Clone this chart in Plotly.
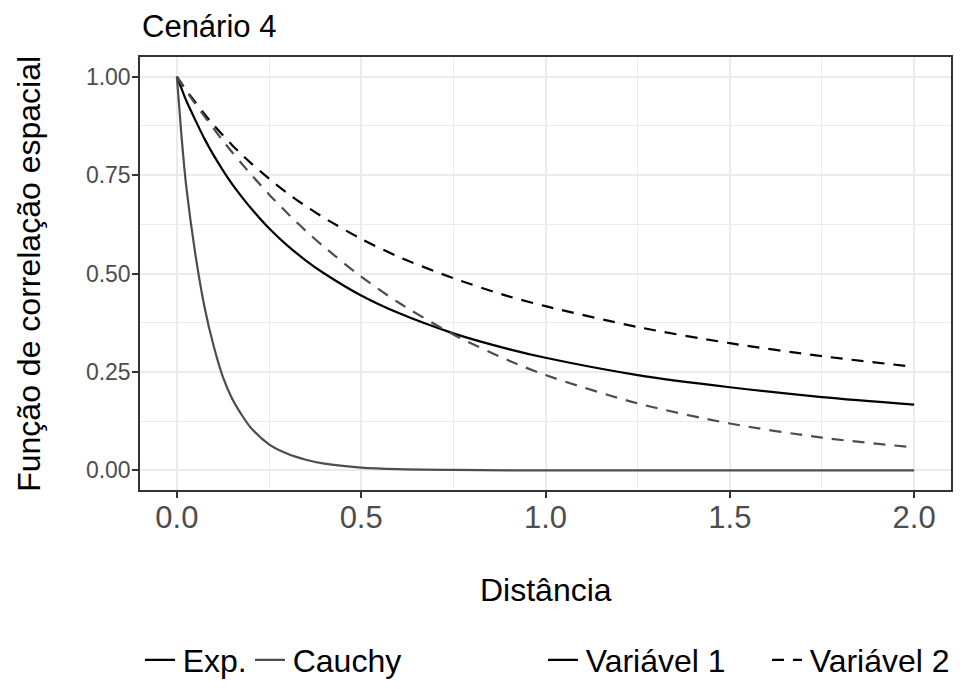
import plotly.graph_objects as go

# ---- data ----
distancia = [0, 0.0125, 0.025, 0.05, 0.075, 0.1, 0.125, 0.15, 0.175, 0.2, 0.25, 0.3,
             0.35, 0.4, 0.5, 0.6, 0.75, 0.9, 1.0, 1.25, 1.5, 1.75, 2.0]

exp_var1 = [1.0, 0.97, 0.94, 0.89, 0.842, 0.80, 0.762, 0.727, 0.696, 0.667, 0.615, 0.571,
            0.533, 0.50, 0.444, 0.40, 0.348, 0.308, 0.286, 0.242, 0.211, 0.186, 0.167]
exp_var2 = [1.0, 0.983, 0.966, 0.935, 0.905, 0.877, 0.851, 0.826, 0.803, 0.781, 0.741, 0.704,
            0.671, 0.641, 0.588, 0.543, 0.488, 0.442, 0.417, 0.364, 0.323, 0.290, 0.263]
cauchy_var1 = [1.0, 0.85, 0.725, 0.55, 0.415, 0.315, 0.237, 0.182, 0.142, 0.109, 0.066, 0.042,
               0.027, 0.017, 0.007, 0.003, 0.001, 0.0, 0.0, 0.0, 0.0, 0.0, 0.0]
cauchy_var2 = [1.0, 0.982, 0.965, 0.931, 0.899, 0.868, 0.837, 0.808, 0.780, 0.753, 0.701, 0.653,
               0.608, 0.567, 0.492, 0.427, 0.345, 0.279, 0.242, 0.170, 0.119, 0.083, 0.058]

familias = ["Exp.", "Cauchy"]
variaveis = ["Variável 1", "Variável 2"]
cores = {"Exp.": "#000000", "Cauchy": "#4D4D4D"}
tracos = {"Variável 1": "solid", "Variável 2": "12px,9px"}

series = [
    ("Exp.", "Variável 1", exp_var1),
    ("Exp.", "Variável 2", exp_var2),
    ("Cauchy", "Variável 1", cauchy_var1),
    ("Cauchy", "Variável 2", cauchy_var2),
]

FONT = "Liberation Sans, Arial, Helvetica, sans-serif"
LW = 2.2

fig = go.Figure()
for fam, var, vals in series:
    fig.add_trace(go.Scatter(
        x=distancia, y=vals, mode="lines",
        line=dict(color=cores[fam], dash=tracos[var], width=LW, shape="spline", smoothing=0.8),
        showlegend=False, hoverinfo="skip"))

# legend entries: one small legend per key, placed like ggplot's two guides
legend_items = [
    ("Exp.", dict(color=cores["Exp."], width=LW), "legend", 140),
    ("Cauchy", dict(color=cores["Cauchy"], width=LW), "legend2", 250),
    ("Variável 1", dict(color="#000000", dash=tracos["Variável 1"], width=LW), "legend3", 543),
    ("Variável 2", dict(color="#000000", dash=tracos["Variável 2"], width=LW), "legend4", 767),
]
HAIR = "\u200a"
for name, ln, lg, _ in legend_items:
    fig.add_trace(go.Scatter(x=[None], y=[None], mode="lines", name=HAIR + name, line=ln, legend=lg))

grid = "#EBEBEB"
axis_common = dict(
    showline=True, mirror=True, linecolor="#333333", linewidth=1.5,
    ticks="outside", ticklen=6, tickwidth=1.5, tickcolor="#333333",
    showgrid=True, gridcolor=grid, gridwidth=1.6, zeroline=False,
)

fig.update_xaxes(range=[-0.1, 2.1], tickmode="linear", tick0=0, dtick=0.5, tickformat=".1f",
                 tickfont=dict(size=31, color="#4D4D4D", family=FONT),
                 minor=dict(tick0=0, dtick=0.25, showgrid=True, gridcolor=grid, gridwidth=0.8, ticks=""),
                 ticklabelstandoff=-7,
                 **axis_common)
fig.update_yaxes(range=[-0.05, 1.05], tickmode="linear", tick0=0, dtick=0.25, tickformat=".2f",
                 tickfont=dict(size=23, color="#4D4D4D", family=FONT),
                 minor=dict(tick0=0, dtick=0.125, showgrid=True, gridcolor=grid, gridwidth=0.8, ticks=""),
                 ticklabelstandoff=-3,
                 **axis_common)

W, H = 964, 689
L, R, T, B = 140, 11, 57, 199
ph = H - T - B

def py(ypix):
    return (H - B - ypix) / ph

def px(xpix):
    return (xpix - L) / (W - L - R)

legends = {}
for name, ln, lg, xpix in legend_items:
    legends[lg] = dict(orientation="h", xref="container", yref="container",
                       x=xpix / W, y=1 - 660 / H, xanchor="left", yanchor="middle",
                       font=dict(size=32, family=FONT, color="#000000"),
                       bgcolor="rgba(0,0,0,0)", itemwidth=30)

fig.update_layout(
    width=W, height=H,
    margin=dict(l=L, r=R, t=T, b=B),
    paper_bgcolor="white", plot_bgcolor="white",
    font=dict(family=FONT, color="#000000"),
    annotations=[
        dict(text="Cenário 4", xref="paper", yref="paper", x=px(140), y=py(26),
             xanchor="left", yanchor="middle", showarrow=False,
             font=dict(size=31, family=FONT, color="#000000")),
        dict(text="Distância", xref="paper", yref="paper", x=px(547), y=py(590),
             xanchor="center", yanchor="middle", showarrow=False,
             font=dict(size=32, family=FONT, color="#000000")),
        dict(text="Função de correlação espacial", xref="paper", yref="paper",
             x=px(28), y=py(273.5), textangle=-90,
             xanchor="center", yanchor="middle", showarrow=False,
             font=dict(size=32, family=FONT, color="#000000")),
    ],
    **legends,
)

fig.write_html("out.html", config={"displayModeBar": False},
               post_script="document.body.style.margin='0';document.body.style.overflow='hidden';")
